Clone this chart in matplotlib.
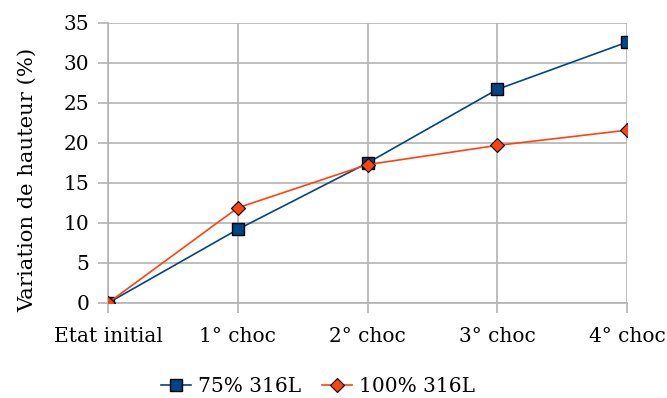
import matplotlib
matplotlib.use("Agg")
import matplotlib.pyplot as plt

categories = ["Etat initial", "1° choc", "2° choc", "3° choc", "4° choc"]
serie_75 = [0, 9.2, 17.5, 26.7, 32.6]
serie_100 = [0, 11.9, 17.3, 19.7, 21.6]

plt.rcParams['font.family'] = ['DejaVu Serif']
plt.rcParams['font.size'] = 14.5

fig = plt.figure(figsize=(6.67, 3.98), dpi=100)
ax = fig.add_axes([108 / 667, 1 - 303 / 398, (627 - 108) / 667, (303 - 23) / 398])

x = range(len(categories))
ax.plot(x, serie_75, color='#004586', lw=1.2, marker='s', ms=8.5,
        mfc='#004586', mec='black', mew=1, label='75% 316L', zorder=3)
ax.plot(x, serie_100, color='#ff420e', lw=1.2, marker='D', ms=7,
        mfc='#ff420e', mec='black', mew=0.8, label='100% 316L', zorder=3)

ax.set_xlim(0, len(categories) - 1)
ax.set_ylim(0, 35)
ax.set_yticks(range(0, 36, 5))
ax.set_xticks(list(x))
ax.set_xticklabels(categories)
ax.grid(True, color='#b3b3b3', lw=1.2)
ax.set_axisbelow(True)
for s in ['top', 'right']:
    ax.spines[s].set_visible(False)
for s in ['left', 'bottom']:
    ax.spines[s].set_color('#b3b3b3')
    ax.spines[s].set_linewidth(1.2)
ax.tick_params(axis='both', color='#b3b3b3', width=1.2, length=7.5)
ax.tick_params(axis='x', pad=10)
ax.tick_params(axis='y', pad=6)
ax.set_ylabel('Variation de hauteur (%)', fontsize=15.2)
ax.yaxis.set_label_coords(-0.137, 0.44)

fig.legend(loc='center', bbox_to_anchor=(318 / 667, 1 - 387 / 398), ncol=2,
           frameon=False, handlelength=1.5, handletextpad=0.35, columnspacing=1.0)

fig.savefig('out.png', dpi=100)
